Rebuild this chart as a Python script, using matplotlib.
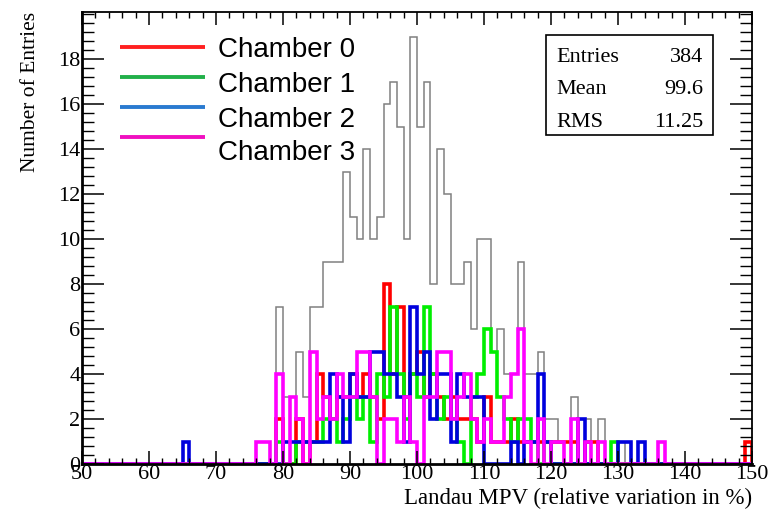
import numpy as np
import matplotlib
matplotlib.use("Agg")
import matplotlib.pyplot as plt
from matplotlib.patches import Rectangle
from matplotlib.ticker import MultipleLocator

# 1-unit bins from 50 to 150, each series given as (bin low edge, count)
all_bins = [65, 76, 77, 79, 80, 81, 82, 83, 84, 85, 86, 87, 88, 89, 90, 91, 92, 93, 94,
            95, 96, 97, 98, 99, 100, 101, 102, 103, 104, 105, 106, 107, 108, 109, 110,
            111, 112, 113, 114, 115, 116, 117, 118, 119, 120, 121, 122, 123, 124, 125,
            126, 127, 129, 131, 133, 136, 149]
all_counts = [1, 1, 1, 7, 3, 3, 5, 3, 7, 7, 9, 9, 9, 13, 11, 10, 14, 10, 11,
              16, 17, 15, 10, 19, 15, 17, 8, 14, 12, 8, 8, 9, 6, 10, 10,
              5, 6, 4, 4, 9, 4, 4, 5, 2, 2, 1, 1, 3, 2, 2,
              1, 2, 1, 1, 1, 1, 1]

ch0_bins = [79, 82, 84, 85, 86, 87, 88, 89, 90, 91, 92, 93, 94, 95, 96, 97, 98, 99, 100,
            101, 102, 103, 104, 105, 106, 107, 108, 109, 110, 111, 112, 113, 114, 115,
            116, 117, 118, 119, 120, 121, 122, 123, 125, 126, 149]
ch0_counts = [2, 2, 1, 4, 3, 2, 3, 3, 4, 3, 4, 3, 2, 8, 4, 7, 3, 4, 5,
              3, 4, 3, 2, 3, 2, 2, 2, 1, 3, 1, 1, 1, 2, 1,
              1, 1, 1, 1, 1, 1, 1, 1, 1, 1, 1]

ch1_bins = [79, 82, 83, 84, 85, 86, 87, 88, 89, 90, 91, 92, 93, 94, 95, 96, 97, 98, 99,
            100, 101, 102, 103, 104, 105, 106, 108, 109, 110, 111, 112, 113, 114, 115,
            116, 117, 119, 129]
ch1_counts = [1, 1, 1, 1, 1, 2, 2, 1, 2, 3, 2, 3, 1, 4, 3, 7, 4, 2, 4,
              3, 7, 4, 2, 3, 2, 1, 3, 4, 6, 5, 3, 2, 1, 2,
              2, 1, 1, 1]

ch2_bins = [65, 80, 81, 82, 83, 84, 85, 86, 87, 88, 89, 90, 91, 92, 93, 94, 95, 96, 97,
            98, 99, 100, 101, 102, 103, 104, 105, 106, 107, 108, 109, 114, 116, 117,
            118, 119, 124, 130, 131, 133]
ch2_counts = [1, 1, 1, 1, 1, 1, 1, 1, 4, 3, 1, 4, 3, 3, 5, 5, 4, 4, 3,
              1, 7, 4, 5, 2, 4, 4, 1, 4, 3, 3, 3, 1, 1, 1,
              4, 1, 2, 1, 1, 1]

ch3_bins = [76, 77, 79, 81, 82, 84, 85, 86, 87, 88, 89, 90, 91, 92, 93, 95, 96, 97, 98,
            99, 101, 102, 103, 104, 105, 106, 107, 108, 109, 110, 111, 112, 113, 114,
            115, 116, 118, 120, 121, 123, 125, 127, 136]
ch3_counts = [1, 1, 4, 3, 2, 5, 2, 3, 2, 4, 3, 3, 5, 5, 3, 2, 2, 1, 3,
              1, 3, 3, 5, 5, 2, 3, 4, 2, 1, 2, 1, 1, 3, 4,
              6, 1, 2, 1, 1, 2, 1, 1, 1]

labels = ["Chamber 0", "Chamber 1", "Chamber 2", "Chamber 3"]
stats = [("Entries", "384"), ("Mean", "99.6"), ("RMS", "11.25")]

edges = np.arange(50, 151, 1)


def fill(bins, counts):
    h = np.zeros(len(edges) - 1)
    h[np.array(bins) - 50] = counts
    return h


serif = "Liberation Serif"
sans = "Liberation Sans"

fig = plt.figure(figsize=(7.78, 5.09), dpi=100)
ax = fig.add_axes([82 / 778, 45 / 509, 670 / 778, 452 / 509])

ax.stairs(fill(all_bins, all_counts), edges, color="#808080", lw=1.1)

hist_colors = ["#ff0000", "#00ee00", "#0000dd", "#ff00ff"]
series = [(ch0_bins, ch0_counts), (ch1_bins, ch1_counts),
          (ch2_bins, ch2_counts), (ch3_bins, ch3_counts)]
order = [0, 1, 2, 3]
for i in order:
    b, c = series[i]
    ax.stairs(fill(b, c), edges, color=hist_colors[i], lw=2.6)

ax.set_xlim(50, 150)
ax.set_ylim(0, 20.1)
ax.xaxis.set_major_locator(MultipleLocator(10))
ax.xaxis.set_minor_locator(MultipleLocator(2))
ax.yaxis.set_major_locator(MultipleLocator(2))
ax.yaxis.set_minor_locator(MultipleLocator(0.4))
ax.set_yticks(np.arange(0, 20, 2))
ax.tick_params(axis="x", which="major", direction="in", length=9.5, width=1.1,
               top=True, pad=1, labelsize=16)
ax.tick_params(axis="x", which="minor", direction="in", length=4.5, width=1.0, top=True)
ax.tick_params(axis="y", which="major", direction="in", length=15.5, width=1.1,
               right=True, pad=1, labelsize=16)
ax.tick_params(axis="y", which="minor", direction="in", length=8.5, width=1.0, right=True)
for lab in ax.get_xticklabels() + ax.get_yticklabels():
    lab.set_fontfamily(serif)
for s in ax.spines.values():
    s.set_linewidth(1.3)
ax.spines["left"].set_linewidth(2)
ax.spines["bottom"].set_linewidth(2)

ax.set_xlabel("Landau MPV (relative variation in %)", fontfamily=serif, fontsize=16.5)
ax.xaxis.set_label_coords(1.0, -0.052)
ax.xaxis.label.set_horizontalalignment("right")
ax.set_ylabel("Number of Entries", fontfamily=serif, fontsize=15.5)
ax.yaxis.set_label_coords(-0.077, 1.0)
ax.yaxis.label.set_verticalalignment("center")
ax.yaxis.label.set_horizontalalignment("right")

# legend drawn by hand, no frame
legend_colors = ["#ff2020", "#22b04a", "#2a7ad0", "#f010c0"]
line_y = [0.9226, 0.8562, 0.7898, 0.7235]
text_y = [0.9004, 0.8230, 0.7456, 0.6726]
for col, lab, ly, ty in zip(legend_colors, labels, line_y, text_y):
    ax.plot([0.057, 0.184], [ly, ly], color=col, lw=2.8, transform=ax.transAxes,
            solid_capstyle="butt")
    ax.text(0.203, ty, lab, transform=ax.transAxes, fontfamily=sans, fontsize=20,
            va="baseline", ha="left")

# statistics box
ax.add_patch(Rectangle((0.6925, 0.728), 0.2493, 0.221, transform=ax.transAxes,
                       facecolor="white", edgecolor="black", lw=1.2, zorder=5))
for (name, val), ty in zip(stats, [0.889, 0.8186, 0.7456]):
    ax.text(0.7075, ty, name, transform=ax.transAxes, fontfamily=serif, fontsize=16,
            va="baseline", ha="left", zorder=6)
    ax.text(0.927, ty, val, transform=ax.transAxes, fontfamily=serif, fontsize=16,
            va="baseline", ha="right", zorder=6)

fig.savefig("out.png", dpi=100)
